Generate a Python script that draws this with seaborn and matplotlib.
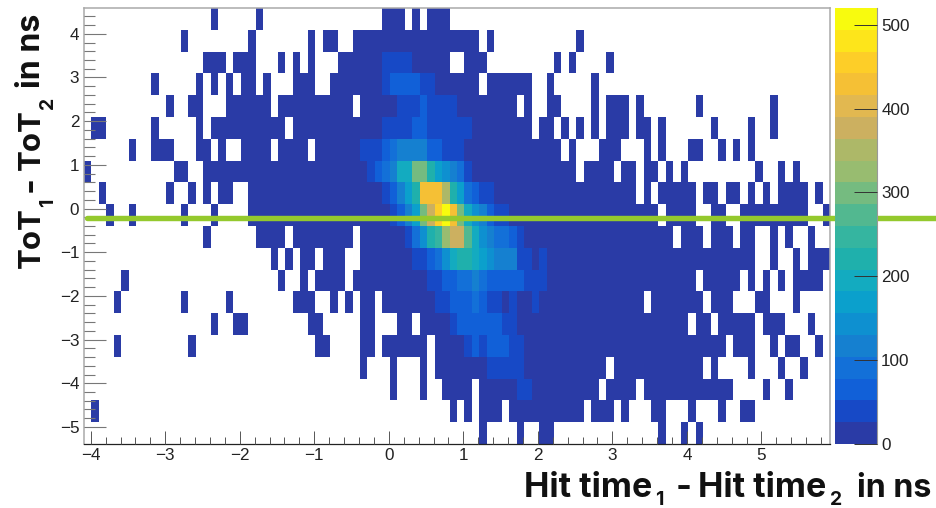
import matplotlib
matplotlib.use('Agg')
import matplotlib.pyplot as plt
from matplotlib.colors import ListedColormap
import numpy as np
import seaborn as sns

# histogram rows from the top (ToT diff 4.6) to the bottom (-5.4), 100 x bins each
# every entry is (first x bin, last x bin, count), bins not listed are empty
row_00 = [(17,17,13),(23,23,13),(40,42,13),(44,44,13),(46,48,13)]
row_01 = [(13,13,13),(22,22,13),(30,30,13),(32,33,13),(36,52,13),(54,54,13),(66,66,13)]
row_02 = [(16,18,13),(20,22,13),(26,26,13),(28,28,13),(30,30,13),(34,39,13),(40,43,39),(44,48,13),(51,53,13),(63,63,13),(65,65,13),(70,70,13)]
row_03 = [(9,9,13),(15,15,13),(17,17,13),(19,19,13),(21,22,13),(24,24,13),(28,30,13),(33,39,13),(40,40,39),(41,44,65),(45,46,39),(47,52,13),(54,59,13),(62,62,13),(68,68,13)]
row_04 = [(11,11,13),(14,15,13),(19,24,13),(26,35,13),(37,41,13),(42,44,39),(45,45,65),(46,49,39),(50,57,13),(59,59,13),(62,63,13),(68,68,13),(70,72,13),(74,74,13),(82,82,13),(92,92,13)]
row_05 = [(1,2,13),(9,9,13),(15,15,13),(17,26,13),(28,39,13),(40,43,39),(44,45,65),(46,51,39),(52,59,13),(61,62,13),(64,64,13),(66,66,13),(68,68,13),(70,72,13),(74,75,13),(77,77,13),(84,84,13),(89,89,13),(92,92,13)]
row_06 = [(6,6,13),(9,11,13),(15,16,13),(18,18,13),(21,24,13),(26,29,13),(31,36,13),(37,39,39),(40,40,65),(41,41,91),(42,45,117),(46,47,65),(48,50,39),(51,63,13),(65,65,13),(69,71,13),(75,75,13),(77,77,13),(81,82,13),(85,85,13),(87,87,13),(89,89,13)]
row_07 = [(0,0,13),(12,13,13),(16,37,13),(38,38,39),(39,39,65),(40,40,91),(41,41,117),(42,43,195),(44,45,299),(46,46,221),(47,47,169),(48,48,143),(49,49,117),(50,50,91),(51,51,39),(52,65,13),(67,70,13),(72,73,13),(75,76,13),(78,78,13),(80,80,13),(90,90,13),(93,93,13),(95,95,13)]
row_08 = [(2,2,13),(11,11,13),(14,14,13),(16,16,13),(18,19,13),(22,39,13),(40,40,39),(41,41,65),(42,42,117),(43,43,169),(44,44,221),(45,47,429),(48,48,351),(49,49,221),(50,50,169),(51,51,91),(52,52,65),(53,54,39),(55,73,13),(75,75,13),(77,81,13),(83,84,13),(86,87,13),(89,89,13),(91,91,13),(93,96,13),(98,98,13)]
row_09 = [(3,3,13),(6,6,13),(13,13,13),(17,17,13),(22,40,13),(41,41,39),(42,42,65),(43,43,117),(44,44,169),(45,45,299),(46,46,377),(47,47,455),(48,48,507),(49,49,429),(50,50,299),(51,51,195),(52,52,143),(53,53,117),(54,54,65),(55,56,39),(57,76,13),(78,81,13),(84,85,13),(88,96,13),(99,99,13)]
row_10 = [(16,16,13),(23,26,13),(28,35,13),(37,42,13),(43,43,39),(44,44,91),(45,45,143),(46,46,221),(47,47,247),(48,48,325),(49,50,377),(51,51,273),(52,52,195),(53,53,143),(54,54,117),(55,56,91),(57,57,65),(58,58,39),(59,78,13),(80,82,13),(84,86,13),(88,89,13),(92,92,13),(94,94,13),(97,97,13)]
row_11 = [(25,25,13),(27,27,13),(29,30,13),(32,34,13),(37,43,13),(44,45,39),(46,46,65),(47,47,91),(48,48,143),(49,49,195),(50,51,221),(52,52,195),(53,53,169),(54,54,143),(55,57,117),(58,59,39),(60,60,13),(61,61,39),(62,89,13),(92,92,13),(95,95,13),(97,99,13)]
row_12 = [(5,5,13),(26,26,13),(29,29,13),(31,34,13),(36,45,13),(46,47,39),(48,49,65),(50,51,91),(52,52,117),(53,53,91),(54,58,65),(59,61,39),(62,81,13),(83,87,13),(89,89,13),(91,91,13),(93,93,13),(95,98,13)]
row_13 = [(4,4,13),(13,13,13),(19,19,13),(28,30,13),(33,33,13),(35,35,13),(37,38,13),(40,46,13),(47,48,39),(49,51,65),(52,52,91),(53,53,65),(54,55,39),(56,56,13),(57,57,39),(58,59,13),(60,60,39),(61,74,13),(76,82,13),(84,86,13),(90,91,13),(95,95,13)]
row_14 = [(17,17,13),(20,21,13),(30,31,13),(37,38,13),(42,43,13),(45,48,13),(49,49,39),(50,55,65),(56,57,39),(58,80,13),(82,83,13),(85,89,13),(91,93,13),(97,97,13)]
row_15 = [(4,4,13),(14,14,13),(31,32,13),(37,38,13),(40,45,13),(47,50,13),(51,51,39),(52,52,65),(53,53,39),(54,56,65),(57,58,39),(59,85,13),(87,89,13),(92,92,13),(94,95,13),(98,98,13)]
row_16 = [(37,37,13),(41,41,13),(45,45,13),(47,53,13),(54,58,39),(59,69,13),(71,82,13),(84,84,13),(89,89,13),(93,93,13),(96,96,13)]
row_17 = [(41,41,13),(45,45,13),(48,51,13),(53,57,13),(58,59,39),(60,68,13),(70,73,13),(75,86,13),(91,91,13),(94,94,13)]
row_18 = [(1,1,13),(49,49,13),(51,51,13),(53,55,13),(57,66,13),(68,70,13),(72,72,13),(76,77,13),(81,81,13),(85,85,13),(88,89,13)]
row_19 = [(53,53,13),(58,58,13),(61,62,13),(77,77,13),(80,80,13),(82,82,13)]
rows = [row_00, row_01, row_02, row_03, row_04, row_05, row_06, row_07, row_08, row_09,
        row_10, row_11, row_12, row_13, row_14, row_15, row_16, row_17, row_18, row_19]

x_ticks = [-4, -3, -2, -1, 0, 1, 2, 3, 4, 5]
x_labels = ['\u22124', '\u22123', '\u22122', '\u22121', '0', '1', '2', '3', '4', '5']
y_ticks = [4, 3, 2, 1, 0, -1, -2, -3, -4, -5]
y_labels = ['4', '3', '2', '1', '0', '\u22121', '\u22122', '\u22123', '\u22124', '\u22125']
z_ticks = [0, 100, 200, 300, 400, 500]
cut_line = -0.22

# ROOT kBird palette, 20 contours
bird = ['#2A3BA6', '#1749C6', '#1160D8', '#1370D8', '#1580D0', '#0E90D0', '#0BA0CC', '#13ABC0', '#1FB0AC', '#35B5A0',
        '#52B890', '#75BB80', '#98BC70', '#ADB868', '#CCB060', '#E2B850', '#F5C035', '#FDCE28', '#FDE51B', '#F8FB0E']

sns.set_theme(style='white')
plt.rcParams['font.family'] = ['Liberation Sans', 'DejaVu Sans']

hist = np.zeros((20, 100))
for i, row in enumerate(rows):
    for first, last, count in row:
        hist[i, first:last + 1] = count

W, H = 936, 508
fig = plt.figure(figsize=(W / 100, H / 100), dpi=100)
ax = fig.add_axes([84 / W, 1 - 444 / H, 746 / W, 436 / H])
cax = fig.add_axes([835 / W, 1 - 444 / H, 42 / W, 436 / H])

sns.heatmap(hist, mask=hist == 0, cmap=ListedColormap(bird), vmin=0, vmax=520, ax=ax, cbar_ax=cax,
            xticklabels=False, yticklabels=False)

# axis ranges of the original histogram
xmin, xmax = -4.09, 5.92
ymin, ymax = -5.39, 4.59
to_x = lambda v: (np.asarray(v) - xmin) / (xmax - xmin) * 100
to_y = lambda v: (ymax - np.asarray(v)) / (ymax - ymin) * 20

ax.set_xticks(to_x(x_ticks), labels=x_labels, rotation=0)
ax.set_yticks(to_y(y_ticks), labels=y_labels, rotation=0)
ax.set_xticks(to_x(np.arange(-4, 5.9, 0.2)), minor=True)
ax.set_yticks(to_y(np.arange(-5, 4.5, 0.2)), minor=True)
ax.tick_params(axis='x', which='major', direction='in', length=9.5, width=0.7, color='#555555', bottom=True,
               labelsize=12.3, pad=3, labelcolor='#222222')
ax.tick_params(axis='x', which='minor', direction='in', length=5, width=0.7, color='#555555', bottom=True)
ax.tick_params(axis='y', which='major', direction='in', length=16, width=0.8, color='#777777', left=True,
               labelsize=12.3, pad=3.5, labelcolor='#222222')
ax.tick_params(axis='y', which='minor', direction='in', length=8, width=0.8, color='#777777', left=True)
ax.set_axisbelow(False)

for name, spine in ax.spines.items():
    spine.set_visible(True)
    spine.set_color('#AAAAAA')
    spine.set_linewidth(1.1)
ax.spines['bottom'].set_color('#222222')
ax.spines['bottom'].set_linewidth(0.9)

cbar = ax.collections[0].colorbar
cbar.set_ticks(z_ticks)
cax.set_axisbelow(False)
cax.tick_params(axis='y', which='major', direction='in', length=16.5, width=0.7, color='#333333', right=True,
                labelsize=12.3, pad=3, labelcolor='#222222')
cax.minorticks_off()
for spine in cax.spines.values():
    spine.set_visible(False)
cax.spines['right'].set_visible(True)
cax.spines['right'].set_color('#999999')
cax.spines['right'].set_linewidth(0.8)

ax.axhline(to_y(cut_line), xmin=0.004, xmax=1.142, color='#94C92D', lw=3.9, clip_on=False, zorder=10)

# axis titles are pieced together so the subscripts can sit low like in the original
title_font = dict(family='Inter', fontweight='bold', color='#111111')
x_pieces = [('Hit time', 524, 497, 24.5), ('1', 655, 505, 14), ('-', 676, 497, 24.5),
            ('Hit time', 698, 497, 24.5), ('2', 830, 505, 14), ('in ns', 857, 497, 23.2)]
for s, px, py, size in x_pieces:
    fig.text(px / W, 1 - py / H, s, ha='left', va='baseline', fontsize=size, **title_font)
y_pieces = [('ToT', 40, 268, 22.5), ('1', 53, 207, 14), ('-', 40, 192, 24.5),
            ('ToT', 40, 170, 22.5), ('2', 53, 109, 14), ('in ns', 40, 88, 23.2)]
for s, px, py, size in y_pieces:
    fig.text(px / W, 1 - py / H, s, ha='left', va='baseline', rotation=90, rotation_mode='anchor',
             fontsize=size, **title_font)

fig.savefig('out.png', dpi=100)
